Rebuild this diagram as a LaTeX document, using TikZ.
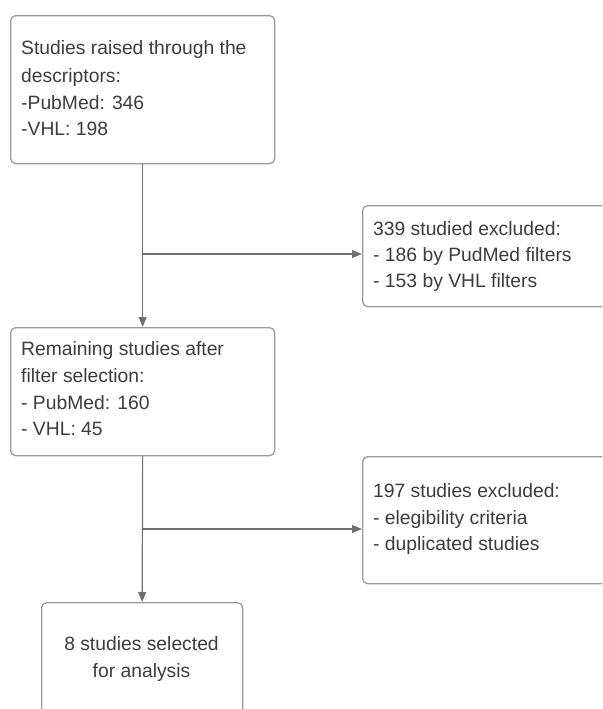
\documentclass[tikz,border=0pt]{standalone}
\usepackage{fontspec}
\setmainfont{Liberation Sans}
\usetikzlibrary{arrows.meta}
\definecolor{txt}{HTML}{3C3C3C}
\definecolor{bord}{HTML}{9A9A9A}
\definecolor{linkc}{HTML}{707070}
\begin{document}
\begin{tikzpicture}[x=1pt,y=-1pt,
  box/.style={draw=bord,line width=1.3pt,rounded corners=5pt,inner sep=0pt,anchor=north west},
  lbl/.style={anchor=base west,inner sep=0pt,text=txt,font=\fontsize{19.3}{23}\selectfont},
  clbl/.style={lbl,anchor=base},
  link/.style={draw=linkc,line width=1.2pt},
  arr/.style={link,-{Triangle[length=10pt,width=8pt]}}]
\useasboundingbox (0,0) rectangle (602,709);
\clip (0,0) rectangle (602,709);
% boxes
\node[box,minimum width=264pt,minimum height=148pt] (b1) at (10,15) {};
\node[box,minimum width=250pt,minimum height=101pt] (b2) at (362,205) {};
\node[box,minimum width=264pt,minimum height=128pt] (b3) at (10,327) {};
\node[box,minimum width=250pt,minimum height=127pt] (b4) at (362,456) {};
\node[box,minimum width=201pt,minimum height=130pt] (b5) at (41,602) {};
% texts
\node[lbl] (t1a) at (21,55) {Studies raised through the};
\node[lbl] (t1b) at (21,82) {descriptors:};
\node[lbl] (t1c) at (21,109) {-PubMed: 346};
\node[lbl] (t1d) at (21,135) {-VHL: 198};
\node[lbl] (t2a) at (373,235) {339 studied excluded:};
\node[lbl] (t2b) at (373,261) {- 186 by PudMed filters};
\node[lbl] (t2c) at (373,287) {- 153 by VHL filters};
\node[lbl] (t3a) at (21,355) {Remaining studies after};
\node[lbl] (t3b) at (21,382) {filter selection:};
\node[lbl] (t3c) at (21,409) {- PubMed: 160};
\node[lbl] (t3d) at (21,435) {- VHL: 45};
\node[lbl] (t4a) at (373,497) {197 studies excluded:};
\node[lbl] (t4b) at (373,524) {- elegibility criteria};
\node[lbl] (t4c) at (373,550) {- duplicated studies};
\node[clbl] (t5a) at (141.5,650) {8 studies selected};
\node[clbl] (t5b) at (141.5,677) {for analysis};
% connectors
\coordinate (j1) at (142,254);
\coordinate (j2) at (142,529);
\draw[arr] (b1.south) -- (b3.north);
\draw[arr] (j1) -- (j1 -| b2.west);
\draw[arr] (b3.south) -- (b5.north);
\draw[arr] (j2) -- (j2 -| b4.west);
\end{tikzpicture}
\end{document}
